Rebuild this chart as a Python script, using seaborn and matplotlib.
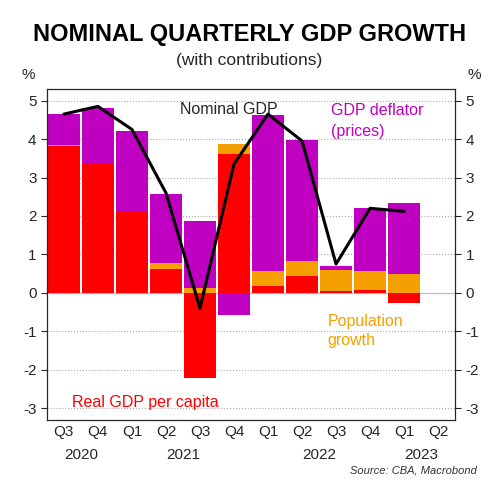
import numpy as np
import matplotlib.pyplot as plt
import seaborn as sns

quarters = ["Q3", "Q4", "Q1", "Q2", "Q3", "Q4", "Q1", "Q2", "Q3", "Q4", "Q1", "Q2"]
years = {0.5: "2020", 3.5: "2021", 7.5: "2022", 10.5: "2023"}
real_gdp = [3.83, 3.35, 2.10, 0.62, -2.22, 3.60, 0.18, 0.45, 0.05, 0.07, -0.27]
population = [0.02, 0.00, -0.03, 0.15, 0.12, 0.27, 0.40, 0.38, 0.55, 0.50, 0.50]
deflator = [0.80, 1.45, 2.12, 1.80, 1.76, -0.57, 4.04, 3.14, 0.10, 1.63, 1.85]
nominal = [4.65, 4.85, 4.25, 2.60, -0.40, 3.35, 4.65, 3.95, 0.75, 2.20, 2.12]

sns.set_style("white")
plt.rcParams["font.family"] = ["Liberation Sans", "DejaVu Sans"]
plt.rcParams["axes.unicode_minus"] = False

fig = plt.figure(figsize=(4.99, 4.95), dpi=100)
ax = fig.add_axes([0.094, 0.152, 0.818, 0.668])

x = np.arange(len(real_gdp))
pos_base = np.zeros(len(x))
neg_base = np.zeros(len(x))
for vals, col in [(real_gdp, "#ff0000"), (population, "#f5a000"), (deflator, "#c000c0")]:
    v = np.array(vals)
    bottom = np.where(v >= 0, pos_base, neg_base)
    ax.bar(x, v, bottom=bottom, width=0.93, color=col, edgecolor="none", zorder=2)
    pos_base += np.where(v >= 0, v, 0)
    neg_base += np.where(v < 0, v, 0)

sns.lineplot(x=x, y=nominal, color="black", lw=2.2, ax=ax, zorder=3)

ax.set_xlim(-0.5, 11.5)
ax.set_ylim(-3.3, 5.3)
ax.set_yticks(range(-3, 6))
ax.grid(axis="y", linestyle=":", color="#aaaaaa", lw=0.8, zorder=0)
ax.axhline(0, color="#bbbbbb", lw=0.8, zorder=1)
ax.set_xticks(x.tolist() + [11])
ax.set_xticks(np.arange(-0.5, 12), minor=True)
ax.set_xticklabels(quarters, fontsize=11)
ax.tick_params(axis="x", which="major", length=0, pad=4)
ax.tick_params(axis="x", which="minor", length=5, direction="out")
ax.tick_params(axis="y", labelsize=11, direction="out", length=4, left=True)
for s in ax.spines.values():
    s.set_color("black")
ax2 = ax.twinx()
ax2.set_ylim(ax.get_ylim())
ax2.set_yticks(range(-3, 6))
ax2.tick_params(axis="y", labelsize=11, direction="out", length=4, right=True)
for xp, yr in years.items():
    ax.text(xp, -0.085, yr, transform=ax.get_xaxis_transform(), ha="center", va="top", fontsize=11)
ax.text(-0.03, 1.02, "%", transform=ax.transAxes, ha="right", va="bottom", fontsize=11)
ax.text(1.03, 1.02, "%", transform=ax.transAxes, ha="left", va="bottom", fontsize=11)

ax.text(3.4, 4.65, "Nominal GDP", fontsize=11.5)
ax.text(7.85, 4.75, "GDP deflator", color="#c000c0", fontsize=11.5, va="center")
ax.text(7.85, 4.2, "(prices)", color="#c000c0", fontsize=11.5, va="center")
ax.text(7.75, -0.75, "Population", color="#f5a000", fontsize=11.5, va="center")
ax.text(7.75, -1.25, "growth", color="#f5a000", fontsize=11.5, va="center")
ax.text(0.25, -2.85, "Real GDP per capita", color="#ff0000", fontsize=11.5, va="center")

fig.text(0.5, 0.93, "NOMINAL QUARTERLY GDP GROWTH", ha="center", va="center", fontsize=17, fontweight="bold", color="black")
fig.text(0.5, 0.878, "(with contributions)", ha="center", va="center", fontsize=12.5)
fig.text(0.955, 0.05, "Source: CBA, Macrobond", ha="right", va="center", fontsize=8, style="italic", color="#333333")

fig.savefig("out.png", dpi=100)
